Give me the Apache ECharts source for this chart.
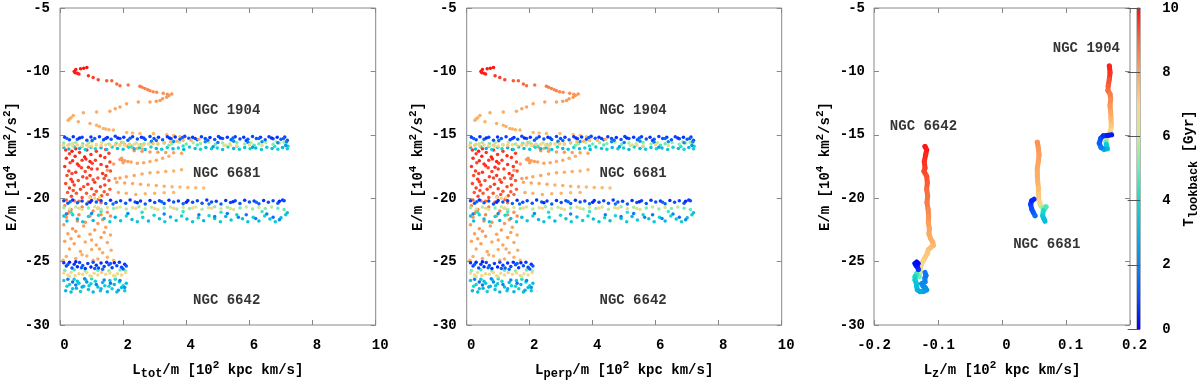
<!DOCTYPE html>
<html>
<head>
<meta charset="utf-8">
<script src="https://cdn.jsdelivr.net/npm/echarts/dist/echarts.min.js"></script>
<style>
  html, body { margin: 0; padding: 0; background: #fff; }
  #chart { width: 1200px; height: 385px; }
</style>
</head>
<body>
<div id="chart"></div>
<script>
// E/m vs L/m for three globular clusters, colour = lookback time [Gyr]
// points are [L, E, T]

// ---- panels 1 & 2 (Ltot, Lperp) ----
const arcs1904 = [
  [0.45,-10.0,9.9],[0.5,-9.85,9.9],[0.55,-10.15,9.8],[0.6,-10.2,9.8],[0.48,-10.1,9.9],[0.65,-9.8,9.9],[0.75,-9.75,10],[0.85,-9.7,10],
  [0.9,-10.35,9.6],[1.05,-10.48,9.5],[1.21,-10.66,9.4],[1.48,-10.74,9.2],[1.64,-10.74,9.1],[1.8,-11.0,9.0],[1.9,-11.13,8.9],
  [2.16,-11.07,8.8],[2.53,-11.18,8.7],[2.6,-11.25,8.65],[2.69,-11.34,8.6],[2.78,-11.45,8.55],[2.85,-11.52,8.5],[2.95,-11.6,8.45],
  [3.06,-11.65,8.4],[3.27,-11.73,8.4],[3.4,-11.8,8.35],[3.54,-11.78,8.3],[3.45,-11.9,8.25],[3.38,-12.03,8.2],[3.25,-12.15,8.2],
  [3.17,-12.3,8.2],[3.05,-12.35,8.15],[2.85,-12.42,8.1],[2.48,-12.42,8.1],[2.11,-12.55,8.0],[1.9,-12.81,8.0],[1.75,-12.95,8.0],
  [1.58,-13.15,7.9],[1.16,-13.2,7.9],[0.74,-13.26,7.9],[0.42,-13.47,7.8],[0.35,-13.65,7.8],[0.3,-13.75,7.8],[0.26,-13.86,7.8],
  [0.58,-13.98,7.8],[0.95,-14.11,7.8],[1.16,-14.24,7.7],[1.25,-14.35,7.7],[1.37,-14.5,7.7],[1.45,-14.55,7.7],[1.55,-14.6,7.7],
  [1.69,-14.63,7.7],[2.11,-14.81,7.6],[2.3,-14.85,7.6],[2.53,-14.89,7.6],[2.96,-14.89,7.6],[3.38,-14.97,7.5],[3.6,-15.05,7.5],
  [3.8,-15.15,7.5],[3.95,-15.2,7.5]
];
const streaks6681 = [
  [1.9,-16.95,8.2],[1.97,-17.0,8.2],[2.05,-17.05,8.1],[2.15,-17.1,8.1],[2.25,-17.15,8.0],[1.95,-16.85,8.2],[2.0,-17.2,8.1],
  [2.45,-17.25,8.0],[2.65,-17.2,8.0],[2.85,-17.1,7.9],[3.05,-17.0,7.9],[3.25,-16.85,7.9],[3.45,-16.7,7.8],
  [2.35,-16.25,8.3],[2.6,-16.3,8.3],[2.85,-16.35,8.2],[3.1,-16.38,8.2],[3.35,-16.4,8.1],[3.6,-16.42,8.1],[3.85,-16.45,8.0],
  [1.75,-18.45,8.1],[1.9,-18.4,8.1],[2.1,-18.3,8.0],[2.35,-18.2,8.0],[2.6,-18.1,7.9],[2.85,-18.0,7.9],[3.1,-17.95,7.8],
  [3.35,-17.9,7.8],[3.6,-17.85,7.7],[3.85,-17.75,7.7],
  [1.8,-18.75,8.0],[2.05,-18.8,8.0],[2.3,-18.85,7.9],[2.55,-18.9,7.9],[2.8,-18.95,7.8],[3.05,-19.0,7.8],[3.3,-19.05,7.7],
  [3.55,-19.1,7.7],[3.8,-19.12,7.6],[4.05,-19.15,7.6],[4.3,-19.18,7.6],[4.55,-19.2,7.5],
  [1.85,-19.55,7.9],[2.1,-19.6,7.8],[2.4,-19.7,7.8],[2.7,-19.65,7.7],[3.0,-19.6,7.7],[3.3,-19.58,7.6],[3.6,-19.55,7.6],
  [1.95,-15.6,7.9],[2.05,-15.75,8.0],[2.15,-15.9,8.0],[2.3,-16.02,7.9],[2.45,-16.08,7.8],[2.6,-16.1,7.8],[1.5,-17.8,8.2],[1.7,-17.3,8.1],
  [0.95,-19.95,7.0],[1.1,-20.0,7.1],[1.25,-19.95,7.0]
];
const red6642 = [
  [0.18,-16.2,9.6],[0.3,-16.5,9.5],[0.2,-16.85,9.7],[0.32,-17.2,9.4],[0.15,-17.5,9.6],[0.28,-17.85,9.5],[0.22,-18.2,9.3],
  [0.35,-18.5,9.6],[0.18,-18.85,9.4],[0.3,-19.2,9.5],[0.24,-19.55,9.2],[0.36,-19.85,9.4],[0.2,-20.15,9.1],
  [0.5,-16.1,9.7],[0.62,-16.4,9.6],[0.48,-16.7,9.8],[0.7,-17.0,9.5],[0.55,-17.3,9.7],[0.68,-17.6,9.4],[0.5,-17.95,9.6],
  [0.72,-18.3,9.5],[0.58,-18.6,9.3],[0.45,-18.95,9.5],[0.65,-19.3,9.4],[0.52,-19.6,9.2],[0.7,-19.95,9.3],[0.6,-20.25,9.0],
  [0.85,-16.2,9.8],[0.98,-16.55,9.6],[0.82,-16.9,9.7],[1.02,-17.25,9.5],[0.9,-17.55,9.7],[0.8,-17.9,9.4],[0.95,-18.2,9.6],
  [1.05,-18.55,9.3],[0.88,-18.9,9.5],[1.0,-19.25,9.4],[0.84,-19.6,9.2],[0.96,-19.9,9.3],
  [1.15,-16.3,9.6],[1.28,-16.65,9.8],[1.12,-17.0,9.5],[1.3,-17.35,9.6],[1.18,-17.7,9.4],[1.35,-18.05,9.6],[1.2,-18.4,9.3],
  [1.1,-18.75,9.5],[1.28,-19.1,9.4],[1.15,-19.45,9.2],[1.32,-19.8,9.3],[1.22,-20.1,9.1],
  [1.45,-16.15,9.7],[1.55,-16.45,9.5],[1.42,-16.8,9.6],[1.58,-17.15,9.4],[1.48,-17.5,9.6],[1.6,-17.85,9.3],[1.45,-18.2,9.5],
  [1.55,-18.6,9.2],[1.42,-18.95,9.4],[1.58,-19.3,9.1],[1.5,-19.7,9.0],
  [0.38,-16.3,9.9],[0.78,-16.75,9.9],[0.4,-17.05,9.7],[0.95,-17.1,9.8],[0.6,-17.45,9.6],[1.0,-17.7,9.5],[0.38,-18.05,9.4],
  [0.85,-18.4,9.4],[1.4,-18.45,9.3],[0.4,-18.7,9.5],[0.75,-19.1,9.3],[1.4,-19.5,9.2],[0.42,-19.4,9.3],[1.08,-19.7,9.2],
  [0.45,-20.2,9.0],[0.9,-20.3,8.9],[1.3,-20.35,8.8]
];
const orange6642 = [
  [0.15,-20.6,8.5],[0.3,-21.0,8.4],[0.7,-20.7,8.6],[1.2,-20.8,8.5],[1.5,-21.1,8.3],[0.2,-21.5,8.3],[0.55,-21.8,8.4],
  [0.95,-21.4,8.3],[1.35,-21.7,8.2],[0.12,-22.1,8.2],[0.4,-22.4,8.3],[0.75,-22.2,8.1],[1.1,-22.5,8.2],[1.45,-22.3,8.0],
  [0.25,-22.8,8.1],[0.6,-23.0,8.2],[0.95,-22.85,8.0],[1.3,-23.1,8.1],[1.6,-22.9,7.9],[0.15,-23.4,8.0],[0.45,-23.6,8.1],
  [0.8,-23.45,7.9],[1.15,-23.7,8.0],[1.5,-23.5,7.9],[0.3,-24.0,7.9],[0.65,-24.2,8.0],[1.0,-24.05,7.8],[1.35,-24.3,7.9],
  [1.62,-24.1,7.8],[0.2,-24.6,7.8],[0.5,-24.75,7.9],[0.85,-24.55,7.7],[1.2,-24.8,7.8],[1.5,-24.65,7.7],[1.7,-24.9,7.6],
  [0.35,-20.9,8.6],[1.05,-21.0,8.5],[0.8,-21.9,8.3],[1.2,-22.0,8.2],[0.5,-22.6,8.2],[1.4,-22.7,8.1],[1.0,-23.3,8.0],
  [0.35,-23.2,8.1],[1.25,-24.0,7.9],[0.7,-24.45,7.8],[1.05,-24.9,7.7],[0.1,-24.9,7.8],[1.6,-21.4,8.4],[0.6,-21.3,8.5],
  [1.3,-21.3,8.4],[0.25,-21.2,8.5]
];
const bandACyan = [
  [0.12,-16.0,3.5],[0.28,-16.12,3.2],[0.45,-15.95,3.8],[0.62,-16.08,3.0],[0.8,-16.15,3.6],[0.98,-15.98,3.3],[1.12,-16.1,3.9],
  [1.3,-16.02,2.9],[1.48,-16.15,3.4],[1.65,-15.96,3.7],[1.82,-16.08,3.1],[2.0,-16.14,3.5],[2.18,-15.98,3.8],[2.35,-16.1,3.0],
  [2.52,-16.02,3.6],[2.7,-16.16,3.3],[2.88,-15.96,3.9],[3.05,-16.08,3.1],[3.22,-16.14,3.5],[3.4,-16.0,3.7],[3.58,-16.1,3.2],
  [3.75,-16.04,3.8],[3.92,-16.16,3.0],[4.1,-15.96,3.6],[4.28,-16.08,3.3],[4.45,-16.14,3.9],[4.62,-16.0,3.1],[4.8,-16.1,3.5],
  [4.98,-16.04,3.7],[5.15,-16.16,3.2],[5.32,-15.96,3.8],[5.5,-16.08,3.0],[5.68,-16.14,3.6],[5.85,-16.0,3.4],[6.02,-16.1,3.9],
  [6.2,-16.04,3.1],[6.38,-16.16,3.5],[6.55,-15.98,3.7],[6.72,-16.08,3.2],[6.9,-16.14,3.8],[7.05,-16.0,3.0],[7.2,-16.1,3.6],
  [7.22,-15.9,3.9],[0.7,-15.92,4.2],[2.25,-15.9,4.3],[3.9,-15.88,4.1],[5.6,-15.9,4.4],[6.8,-15.92,4.2]
];
const bandAGreen = [
  [0.12,-15.65,5.2],[0.3,-15.75,5.8],[0.5,-15.6,5.5],[0.72,-15.7,4.9],[0.9,-15.62,5.6],[1.15,-15.78,5.1],[1.32,-15.6,5.9],
  [1.55,-15.72,5.3],[1.78,-15.66,4.8],[2.0,-15.58,5.6],[2.2,-15.74,5.2],[2.42,-15.64,5.9],[2.66,-15.7,5.0],[2.88,-15.6,5.5],
  [3.1,-15.76,5.8],[3.3,-15.64,5.1],[3.55,-15.7,5.4],[3.78,-15.58,5.9],[4.0,-15.72,4.9],[4.22,-15.62,5.6],[4.45,-15.68,5.2],
  [4.7,-15.58,5.8],[4.92,-15.74,5.0],[5.15,-15.64,5.5],[5.38,-15.7,5.9],[5.6,-15.6,5.1],[5.85,-15.72,5.4],[6.05,-15.62,5.7],
  [6.3,-15.7,4.9],[6.52,-15.6,5.6],[6.75,-15.74,5.2],[6.95,-15.64,5.8],[7.15,-15.7,5.0],[0.4,-15.68,6.0],[1.0,-15.55,6.2],
  [1.9,-15.82,5.7],[2.55,-15.78,4.6],[3.45,-15.82,5.0],[4.35,-15.8,4.7],[5.25,-15.8,6.1],[6.15,-15.82,4.6],[6.85,-15.55,6.0],
  [7.1,-15.58,5.4]
];
const bandABlue = [
  [0.15,-15.2,0.8],[0.3,-15.4,1.0],[0.42,-15.15,0.6],[0.55,-15.35,1.2],[0.7,-15.2,0.9],[0.85,-15.42,1.1],[0.98,-15.18,0.7],
  [1.1,-15.3,1.3],[1.25,-15.15,0.8],[1.38,-15.4,1.0],[1.5,-15.22,0.6],[1.62,-15.35,1.2],[1.75,-15.12,0.9],[1.9,-15.3,1.1],
  [2.02,-15.2,0.7],[2.15,-15.42,1.3],[2.3,-15.16,0.8],[2.45,-15.33,1.0],[2.58,-15.2,0.6],[2.7,-15.38,1.2],[2.85,-15.14,0.9],
  [2.98,-15.3,1.1],[3.12,-15.2,0.7],[3.25,-15.4,1.3],[3.4,-15.15,0.8],[3.52,-15.32,1.0],[3.65,-15.18,0.6],[3.8,-15.36,1.2],
  [3.95,-15.12,0.9],[4.08,-15.28,1.1],[4.2,-15.2,0.7],[4.35,-15.4,1.3],[4.48,-15.15,0.8],[4.6,-15.3,1.0],[4.75,-15.22,0.6],
  [4.9,-15.38,1.2],[5.02,-15.14,0.9],[5.15,-15.3,1.1],[5.3,-15.2,0.7],[5.42,-15.4,1.3],[5.55,-15.16,0.8],[5.7,-15.33,1.0],
  [5.82,-15.2,0.6],[5.95,-15.36,1.2],[6.1,-15.14,0.9],[6.22,-15.3,1.1],[6.35,-15.2,0.7],[6.5,-15.4,1.3],[6.62,-15.16,0.8],
  [6.75,-15.32,1.0],[6.88,-15.2,0.6],[7.0,-15.36,1.2],[7.12,-15.18,0.9],[7.2,-15.42,1.1],
  [0.22,-15.3,1.4],[0.62,-15.25,0.5],[1.02,-15.45,1.5],[1.45,-15.3,0.9],[1.83,-15.25,0.5],[2.22,-15.28,1.4],[2.65,-15.25,0.9],
  [3.05,-15.45,1.5],[3.47,-15.25,0.6],[3.88,-15.22,1.4],[4.28,-15.3,0.9],[4.68,-15.42,1.5],[5.08,-15.25,0.6],[5.48,-15.26,1.4],
  [5.9,-15.45,0.9],[6.3,-15.3,1.5],[6.7,-15.25,0.6],[7.08,-15.3,1.4],[7.18,-15.55,1.8]
];
const bandAMidBlue = [
  [4.6,-15.55,2.0],[5.0,-15.6,1.8],[5.5,-15.5,2.2],[5.95,-15.58,1.9],[6.4,-15.55,2.1],[6.9,-15.62,2.0],[7.15,-15.85,2.3],
  [3.6,-15.52,2.1],[2.9,-15.5,1.9],[4.85,-15.95,2.4],[6.1,-15.98,2.5]
];
const bandABeige = [
  [0.1,-15.85,7.0],[0.25,-15.82,7.2],[0.4,-15.88,6.8],[0.55,-15.8,7.1],[0.7,-15.86,6.9],[0.85,-15.83,7.3],[1.0,-15.88,7.0],
  [1.15,-15.8,6.8],[1.3,-15.85,7.2],[1.45,-15.78,7.0],[1.6,-15.84,6.9],[1.75,-15.8,7.3],[1.9,-15.76,7.1],[2.05,-15.82,6.8],
  [2.2,-15.78,7.2],[2.35,-15.74,7.0],[2.5,-15.8,6.9],[2.65,-15.76,7.3],[2.8,-15.72,7.1],[2.95,-15.7,7.4],[3.1,-15.68,7.2],
  [3.3,-15.62,7.5],[3.5,-15.55,7.6],[3.7,-15.5,7.7],[3.9,-15.45,7.6],[4.15,-15.42,7.7],[4.4,-15.35,7.8],[5.2,-15.85,6.6],
  [5.4,-15.82,6.7],[5.6,-15.86,6.6],[6.0,-15.78,6.8],[6.4,-15.84,6.7],[0.9,-15.9,6.5],[2.6,-15.88,6.6]
];
const bandBCyan = [
  [0.12,-21.4,3.5],[0.22,-21.8,3.2],[0.4,-21.3,3.8],[0.55,-21.65,3.0],[0.72,-21.85,3.4],[0.9,-21.45,3.7],[1.05,-21.75,3.1],
  [1.22,-21.35,3.9],[1.4,-21.6,3.3],[1.58,-21.85,3.6],[1.75,-21.5,3.0],[1.92,-21.78,3.5],[2.1,-21.4,3.8],[2.28,-21.68,3.2],
  [2.45,-21.85,3.4],[2.62,-21.5,3.7],[2.8,-21.8,3.1],[2.98,-21.35,3.9],[3.15,-21.62,3.3],[3.32,-21.85,3.6],[3.5,-21.48,3.0],
  [3.68,-21.75,3.5],[3.85,-21.4,3.8],[4.02,-21.65,3.2],[4.2,-21.85,3.4],[4.38,-21.55,3.7],[4.55,-21.78,3.1],[4.72,-21.38,3.9],
  [4.9,-21.6,3.3],[5.08,-21.85,3.6],[5.25,-21.45,3.0],[5.42,-21.72,3.5],[5.6,-21.3,3.8],[5.78,-21.62,3.2],[5.95,-21.85,3.4],
  [6.12,-21.5,3.7],[6.3,-21.8,3.1],[6.48,-21.4,3.9],[6.65,-21.65,3.3],[6.82,-21.85,3.6],[7.0,-21.55,3.0],[7.15,-21.3,3.5],
  [7.2,-21.15,3.2],[0.35,-21.1,4.3],[1.3,-21.05,4.5],[2.6,-21.1,4.2],[3.9,-21.05,4.4],[5.1,-21.1,4.3],[6.4,-21.05,4.5]
];
const bandBMidBlue = [
  [4.4,-21.3,1.9],[4.9,-21.45,2.0],[5.3,-21.2,1.8],[5.65,-21.5,2.1],[5.9,-21.3,1.7],[6.2,-21.6,2.0],[6.55,-21.25,1.9],
  [6.75,-21.5,1.6],[6.95,-21.7,2.1],[3.3,-21.25,2.0],[2.15,-21.2,2.1],[1.0,-21.2,2.2],[0.2,-21.25,2.0]
];
const bandBGreen = [
  [0.12,-20.75,5.5],[0.3,-20.85,6.2],[0.5,-20.7,5.8],[0.7,-20.9,6.5],[0.9,-20.78,5.2],[1.1,-20.68,6.0],[1.3,-20.88,5.6],
  [1.5,-20.74,6.4],[1.7,-20.82,5.3],[1.9,-20.7,6.1],[2.1,-20.86,5.7],[2.3,-20.76,6.3],[2.5,-20.68,5.4],[2.7,-20.84,6.0],
  [2.9,-20.72,5.8],[3.1,-20.9,6.5],[3.3,-20.78,5.2],[3.5,-20.7,6.1],[3.7,-20.86,5.6],[3.9,-20.74,6.3],[4.1,-20.82,5.4],
  [4.3,-20.7,6.0],[4.5,-20.88,5.7],[4.7,-20.76,6.4],[4.9,-20.68,5.3],[5.1,-20.84,6.1],[5.3,-20.72,5.5],[5.5,-20.9,6.2],
  [5.7,-20.78,5.0],[5.9,-20.7,5.9],[6.1,-20.86,5.4],[6.3,-20.74,6.0],[6.5,-20.82,5.2],[6.7,-20.7,5.7],[6.9,-20.8,5.0],
  [7.1,-20.9,4.8],[0.6,-20.8,6.8],[1.2,-20.8,6.9],[1.8,-20.78,6.8],[2.4,-20.8,7.0],[3.0,-20.82,6.9],[3.6,-20.8,6.8],
  [4.2,-20.78,7.0],[4.8,-20.8,6.9],[5.4,-20.82,6.7]
];
const bandBBlue = [
  [0.12,-20.2,0.8],[0.25,-20.4,1.1],[0.4,-20.15,0.6],[0.55,-20.35,1.3],[0.7,-20.22,0.9],[0.85,-20.45,1.0],[1.0,-20.18,0.7],
  [1.15,-20.3,1.2],[1.3,-20.2,0.8],[1.45,-20.42,1.4],[1.6,-20.16,0.6],[1.78,-20.32,1.0],[1.92,-20.2,0.9],[2.08,-20.4,1.2],
  [2.22,-20.15,0.7],[2.38,-20.3,1.1],[2.55,-20.22,0.8],[2.7,-20.45,1.3],[2.85,-20.18,0.6],[3.0,-20.34,1.0],[3.15,-20.2,0.9],
  [3.3,-20.42,1.2],[3.45,-20.16,0.7],[3.6,-20.3,1.1],[3.75,-20.22,0.8],[3.9,-20.44,1.4],[4.05,-20.18,0.6],[4.2,-20.32,1.0],
  [4.35,-20.2,0.9],[4.5,-20.4,1.2],[4.65,-20.15,0.7],[4.8,-20.3,1.1],[4.95,-20.24,0.8],[5.1,-20.45,1.3],[5.25,-20.18,0.6],
  [5.4,-20.34,1.0],[5.55,-20.2,0.9],[5.7,-20.42,1.2],[5.85,-20.16,0.7],[6.0,-20.3,1.1],[6.15,-20.22,0.8],[6.3,-20.44,1.4],
  [6.45,-20.18,0.6],[6.6,-20.32,1.0],[6.75,-20.2,0.9],[6.9,-20.4,1.2],[7.05,-20.15,0.7],[0.32,-20.28,1.5],[0.95,-20.32,0.5],
  [1.68,-20.45,1.6],[2.45,-20.35,0.5],[3.22,-20.28,1.5],[4.0,-20.32,0.5],[4.72,-20.45,1.6],[5.48,-20.28,0.5],[6.22,-20.32,1.5],
  [6.95,-20.25,0.5],[7.1,-20.2,1.0]
];
const bandCCyan = [
  [0.12,-26.5,3.5],[0.18,-27.3,3.0],[0.3,-26.8,3.8],[0.35,-27.4,3.2],[0.45,-26.4,3.6],[0.52,-27.1,2.9],[0.6,-26.7,3.4],
  [0.65,-27.35,3.7],[0.75,-26.95,3.1],[0.82,-26.45,3.9],[0.9,-27.2,3.3],[0.98,-26.75,3.6],[1.05,-27.4,3.0],[1.12,-26.55,3.8],
  [1.2,-27.0,3.2],[1.28,-27.3,3.5],[1.35,-26.65,3.1],[1.42,-26.9,3.7],[1.5,-27.38,2.9],[1.58,-26.5,3.4],[1.65,-27.15,3.6],
  [1.72,-26.8,3.0],[1.8,-27.4,3.3],[1.88,-26.6,3.8],[1.95,-27.05,3.1],[2.05,-27.3,3.5],[2.1,-26.7,3.2],[0.22,-26.95,3.9],
  [0.4,-27.15,3.4],[0.7,-27.0,2.8],[1.0,-26.35,4.0],[1.3,-27.15,2.9],[1.55,-26.95,3.8],[1.85,-27.25,2.7],[0.55,-26.55,3.3],
  [0.92,-26.9,3.5],[1.75,-26.4,3.9],[2.0,-26.9,3.6]
];
const bandCMidBlue = [
  [0.25,-26.4,2.0],[0.5,-26.85,1.8],[0.85,-26.6,2.2],[1.15,-26.8,1.9],[1.4,-26.45,2.1],[1.6,-26.7,1.7],[1.9,-26.5,2.0],
  [2.05,-27.05,2.3],[0.4,-26.6,1.6],[0.78,-26.35,2.1]
];
const bandCGreen = [
  [0.15,-25.7,5.0],[0.45,-25.65,4.6],[0.8,-25.75,5.3],[1.2,-25.68,4.8],[1.55,-25.72,5.4],[1.9,-25.66,4.9],[2.08,-25.75,5.2]
];
const bandCBeige = [
  [0.12,-25.9,6.8],[0.25,-26.05,7.0],[0.35,-25.85,6.5],[0.48,-26.1,6.9],[0.6,-25.95,7.1],[0.72,-26.0,6.6],[0.85,-25.88,6.8],
  [0.95,-26.12,7.0],[1.08,-25.92,6.7],[1.2,-26.05,6.9],[1.32,-25.85,7.2],[1.45,-26.0,6.6],[1.58,-25.9,6.8],[1.7,-26.1,7.0],
  [1.82,-25.95,6.5],[1.95,-26.05,6.9],[2.08,-25.88,6.7],[0.3,-26.18,6.3],[1.0,-26.2,6.4],[1.75,-26.2,6.3]
];
const bandCBlue = [
  [0.12,-25.1,0.6],[0.2,-25.35,0.9],[0.3,-25.05,0.4],[0.38,-25.5,1.1],[0.45,-25.2,0.7],[0.55,-25.4,0.5],[0.62,-25.08,0.9],
  [0.72,-25.3,1.2],[0.8,-25.55,0.6],[0.88,-25.15,0.8],[0.98,-25.42,0.4],[1.05,-25.05,1.0],[1.15,-25.28,0.7],[1.22,-25.5,1.1],
  [1.3,-25.12,0.5],[1.4,-25.38,0.9],[1.48,-25.06,0.6],[1.55,-25.25,1.2],[1.65,-25.48,0.8],[1.72,-25.1,0.4],[1.8,-25.32,1.0],
  [1.88,-25.05,0.7],[1.95,-25.45,0.9],[2.05,-25.2,0.6],[2.1,-25.35,1.1],[0.25,-25.22,1.3],[0.68,-25.48,1.4],[1.1,-25.55,1.3],
  [1.6,-25.15,1.4],[2.0,-25.58,1.2],[0.5,-25.02,0.3],[1.35,-25.6,1.5]
];

// ---- panel 3 (Lz) tracks ----
const track6642 = [
  [-0.1203,-15.93,10],[-0.1177,-16.19,9.95],[-0.1193,-16.58,9.85],[-0.1214,-17.1,9.75],[-0.1203,-17.62,9.6],[-0.1219,-17.88,9.5],
  [-0.1177,-18.27,9.4],[-0.1167,-18.79,9.3],[-0.1177,-19.3,9.15],[-0.1161,-19.82,9.0],[-0.1172,-20.34,8.85],[-0.1156,-20.86,8.7],
  [-0.1146,-21.38,8.5],[-0.1151,-21.9,8.3],[-0.1135,-22.42,8.1],[-0.1141,-22.81,8.0],[-0.1115,-23.2,7.9],[-0.1083,-23.46,7.8],
  [-0.1073,-23.72,7.7],[-0.1115,-23.9,7.6],[-0.1151,-24.06,7.5],[-0.1167,-24.37,7.4],[-0.1203,-24.68,7.3],[-0.124,-25.02,7.2],
  [-0.1271,-25.4,7.0],[-0.1281,-25.79,6.8],[-0.1292,-26.18,6.5],[-0.1333,-25.93,5.0],[-0.1359,-26.18,4.5],[-0.1359,-26.45,3.9],
  [-0.134,-26.7,3.6],[-0.1333,-26.95,3.4],[-0.1323,-27.23,3.2],[-0.1281,-27.36,3.0],[-0.1229,-27.36,2.8],[-0.1177,-27.23,2.6],
  [-0.12,-27.05,2.4],[-0.1229,-26.95,2.3],[-0.1255,-26.75,2.2],[-0.1203,-26.6,2.1],[-0.1205,-26.3,2.0],[-0.1188,-26.1,1.9],
  [-0.1203,-25.85,1.7]
];
const blob6642 = [
  [-0.1307,-25.62,1.0],[-0.1323,-25.41,0.7],[-0.1344,-25.3,0.5],[-0.1359,-25.15,0.3],[-0.1333,-25.05,0.2],[-0.1307,-25.15,0.1]
];
const track6681 = [
  [0.0552,-15.59,8.4],[0.0568,-16.06,8.3],[0.0578,-16.58,8.2],[0.0568,-17.1,8.1],[0.0552,-17.62,8.0],[0.0552,-18.14,7.9],
  [0.0557,-18.65,7.8],[0.0568,-19.17,7.7],[0.0568,-19.69,7.5],[0.0578,-20.21,7.3],[0.0604,-20.6,7.0],[0.0635,-20.73,6.3],
  [0.0688,-20.68,5.6],[0.0646,-20.99,4.6],[0.0635,-21.38,4.0],[0.0656,-21.64,3.5],[0.0672,-21.82,3.2]
];
const arc6681 = [
  [0.0516,-21.38,2.0],[0.0489,-21.12,1.6],[0.0464,-20.86,1.3],[0.0448,-20.47,1.0],[0.0464,-20.21,0.8],[0.05,-20.08,0.5]
];
const track1904 = [
  [0.1677,-9.57,10],[0.1688,-10.09,9.8],[0.1677,-10.61,9.6],[0.166,-11.13,9.3],[0.1656,-11.52,9.1],[0.1688,-11.78,8.9],
  [0.1698,-12.17,8.7],[0.1688,-12.69,8.4],[0.1698,-13.2,8.2],[0.1703,-13.72,7.9],[0.1708,-14.24,7.6],[0.1698,-14.63,7.3],
  [0.1677,-14.89,7.0],[0.1646,-15.15,6.6],[0.1625,-15.54,6.0],[0.163,-15.75,5.0],[0.1646,-16.1,3.6],[0.1594,-16.14,3.0],
  [0.1547,-16.0,2.5],[0.152,-15.67,1.8],[0.1542,-15.28,1.3],[0.1583,-15.08,1.0],[0.1646,-15.05,0.6],[0.1714,-15.0,0.3]
];

// annotations [x, E, text]
const labelsL = [[4.2,-13.08,'NGC 1904'],[4.2,-18.06,'NGC 6681'],[4.2,-28.05,'NGC 6642']];
const labelsLz = [[0.0786,-8.22,'NGC 1904'],[-0.176,-14.37,'NGC 6642'],[0.0167,-23.64,'NGC 6681']];

const cmap = ['#0000ff','#0a4cff','#0a86f2','#05b6e2','#12dccb','#6cefb2','#cfe89a','#fbd584','#fba55e','#f96a3c','#ff1010'];

const FONT = 'Liberation Mono';
const txt = { fontFamily: FONT, fontWeight: 'bold', fontSize: 14, color: '#000' };
const rich = {
  b: { ...txt, lineHeight: 20, verticalAlign: 'middle' },
  s: { ...txt, fontSize: 12, lineHeight: 12, verticalAlign: 'bottom' },
  p: { ...txt, fontSize: 11, lineHeight: 11, verticalAlign: 'top' }
};
const frame = '#888';

const allPts = [].concat(red6642, orange6642, arcs1904, streaks6681,
  bandACyan, bandAGreen, bandABlue, bandAMidBlue, bandABeige,
  bandBCyan, bandBMidBlue, bandBGreen, bandBBlue,
  bandCCyan, bandCMidBlue, bandCGreen, bandCBeige, bandCBlue);

const chart = echarts.init(document.getElementById('chart'));

const grids = [
  { left: 60, top: 8, width: 315.7, height: 321 },
  { left: 466.7, top: 8, width: 315, height: 321 },
  { left: 874, top: 8, width: 256, height: 321 },
  { left: 1137, top: 8, width: 12.5, height: 321 }
].map(g => ({ ...g, show: true, borderColor: frame, borderWidth: 1, backgroundColor: 'transparent' }));

const tick = { show: true, inside: true, length: 5, lineStyle: { color: frame } };
const noLine = { show: false, onZero: false };

function xPair(gi, min, max, interval, name, labelOpt, gap) {
  return [
    { type: 'value', gridIndex: gi, min, max, interval, position: 'bottom',
      axisLine: noLine, axisTick: tick, splitLine: { show: false },
      axisLabel: { ...txt, margin: 13, ...labelOpt },
      name, nameLocation: 'middle', nameGap: gap, nameTextStyle: { rich } },
    { type: 'value', gridIndex: gi, min, max, interval, position: 'top',
      axisLine: noLine, axisTick: tick, splitLine: { show: false }, axisLabel: { show: false } }
  ];
}
function yPair(gi, gap, margin) {
  return [
    { type: 'value', gridIndex: gi, min: -30, max: -5, interval: 5, position: 'left',
      axisLine: noLine, axisTick: tick, splitLine: { show: false },
      axisLabel: { ...txt, margin },
      name: '{b|E/m [10}{p|4}{b| km}{p|2}{b|/s}{p|2}{b|]}', nameLocation: 'middle', nameRotate: 90,
      nameGap: gap, nameTextStyle: { rich } },
    { type: 'value', gridIndex: gi, min: -30, max: -5, interval: 5, position: 'right',
      axisLine: noLine, axisTick: tick, splitLine: { show: false }, axisLabel: { show: false } }
  ];
}

const shiftLabel = { padding: [0, 0, 0, 9] };
const lzLabel = {
  formatter: v => {
    const s = String(Math.round(v * 10) / 10);
    return v < 0 ? '{n|' + s + '}' : '{q|' + s + '}';
  },
  rich: { n: { ...txt }, q: { ...txt, padding: [0, 0, 0, 9] } }
};

const xAxes = [].concat(
  xPair(0, 0, 10, 2, '{b|L}{s|tot}{b|/m [10}{p|2}{b| kpc km/s]}', shiftLabel, 35),
  xPair(1, 0, 10, 2, '{b|L}{s|perp}{b|/m [10}{p|2}{b| kpc km/s]}', shiftLabel, 35),
  xPair(2, -0.2, 0.2, 0.1, '{b|L}{s|z}{b|/m [10}{p|2}{b| kpc km/s]}', lzLabel, 35),
  [{ type: 'category', gridIndex: 3, data: ['T'], show: false }]
);
const yAxes = [].concat(
  yPair(0, 38, 10), yPair(1, 38.7, 10), yPair(2, 39, 9),
  [{ type: 'value', gridIndex: 3, min: 0, max: 10, interval: 2, position: 'right', z: 10,
     axisLine: noLine, splitLine: { show: false },
     axisTick: { show: true, inside: true, length: 12.5, lineStyle: { color: '#555' } },
     axisLabel: { ...txt, margin: 22 },
     name: '{b|T}{s|lookback}{b| [Gyr]}', nameLocation: 'middle', nameRotate: 90, nameGap: 24,
     nameTextStyle: { rich } }]
);

const series = [];
const mapped = [];
[0, 1].forEach(p => {
  mapped.push(series.length);
  series.push({ type: 'scatter', xAxisIndex: 2 * p, yAxisIndex: 2 * p, data: allPts,
    symbolSize: 3.5, itemStyle: { opacity: 1 }, silent: true });
});

function segments(track) {
  return function (params, api) {
    const i = params.dataIndex;
    const p = api.coord([api.value(0), api.value(1)]);
    const color = api.visual('color');
    if (i === 0) {
      return { type: 'circle', shape: { cx: p[0], cy: p[1], r: 2.5 }, style: { fill: color } };
    }
    const q = api.coord([track[i - 1][0], track[i - 1][1]]);
    return { type: 'line', shape: { x1: q[0], y1: q[1], x2: p[0], y2: p[1] },
      style: { stroke: color, lineWidth: 5, lineCap: 'round' } };
  };
}
[track6642, blob6642, track6681, arc6681, track1904].forEach(tr => {
  mapped.push(series.length);
  series.push({ type: 'custom', xAxisIndex: 4, yAxisIndex: 4, data: tr, renderItem: segments(tr), silent: true });
});

function labelSeries(xi, list) {
  return { type: 'scatter', xAxisIndex: xi, yAxisIndex: xi, symbolSize: 1, silent: true,
    itemStyle: { color: 'rgba(0,0,0,0)' },
    data: list.map(d => ({ value: [d[0], d[1]], label: { formatter: d[2] } })),
    label: { show: true, position: 'right', distance: 0, ...txt } };
}
series.push(labelSeries(0, labelsL), labelSeries(2, labelsL), labelSeries(4, labelsLz));

series.push({ type: 'bar', xAxisIndex: 6, yAxisIndex: 6, data: [10], barWidth: '100%', silent: true,
  itemStyle: { color: new echarts.graphic.LinearGradient(0, 1, 0, 0,
    cmap.map((c, i) => ({ offset: i / (cmap.length - 1), color: c }))) } });

chart.setOption({
  animation: false,
  backgroundColor: '#fff',
  grid: grids,
  xAxis: xAxes,
  yAxis: yAxes,
  visualMap: { type: 'continuous', show: false, min: 0, max: 10, dimension: 2,
    seriesIndex: mapped, inRange: { color: cmap } },
  series
});
</script>
</body>
</html>
